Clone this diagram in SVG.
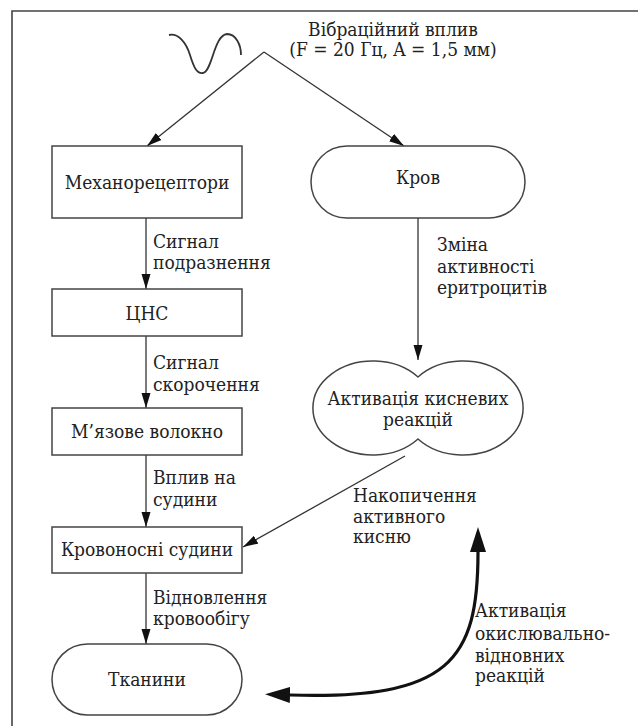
<svg xmlns="http://www.w3.org/2000/svg" width="638" height="726" viewBox="0 0 638 726">
<style>
text{font-family:"DejaVu Serif Condensed","DejaVu Serif","Liberation Serif",serif;font-stretch:condensed;font-size:19px;fill:#222}
.c{text-anchor:middle}
.box{fill:#fff;stroke:#444;stroke-width:1.5}
.ln{fill:none;stroke:#333;stroke-width:1.3}
.bold{fill:none;stroke:#111;stroke-width:3.2}
</style>
<defs>
<marker id="ah" markerUnits="userSpaceOnUse" markerWidth="16" markerHeight="10" refX="15" refY="5" orient="auto"><path d="M0,0.5 L15,5 L0,9.5 z" fill="#111"/></marker>
<marker id="bh" markerUnits="userSpaceOnUse" markerWidth="26" markerHeight="18" refX="0" refY="8" orient="auto-start-reverse"><path d="M0,0 L25,8 L0,16 z" fill="#111"/></marker>
</defs>
<rect width="638" height="726" fill="#fff"/>
<path d="M12,726 V11 H638" fill="none" stroke="#444" stroke-width="1.6"/>

<g id="vibration">
<path d="M169,35 C178,33 186,42 190,55 C194,68 197,74 203,73 C212,72 214,35 227,34 C236,34 241,45 241,55" fill="none" stroke="#333" stroke-width="1.8"/>
<text class="c" x="393" y="36">Вібраційний вплив</text>
<text class="c" x="393" y="56">(F = 20 Гц, A = 1,5 мм)</text>
</g>

<g id="connectors">
<path class="ln" d="M264,52 L147,146" marker-end="url(#ah)"/>
<path class="ln" d="M264,52 L404,146" marker-end="url(#ah)"/>
<path class="ln" d="M146,218 V289" marker-end="url(#ah)"/>
<path class="ln" d="M146,336 V408" marker-end="url(#ah)"/>
<path class="ln" d="M146,455 V527" marker-end="url(#ah)"/>
<path class="ln" d="M146,573 V644" marker-end="url(#ah)"/>
<path class="ln" d="M418,218 V360" marker-end="url(#ah)"/>
<path class="ln" d="M405,456 L243,547" marker-end="url(#ah)"/>
<path class="bold" d="M478,552 C478,660 450,700 290,695" marker-start="url(#bh)" marker-end="url(#bh)"/>
<text x="153" y="248">Сигнал</text>
<text x="153" y="269">подразнення</text>
<text x="153" y="369">Сигнал</text>
<text x="153" y="391">скорочення</text>
<text x="153" y="484">Вплив на</text>
<text x="153" y="506">судини</text>
<text x="153" y="604">Відновлення</text>
<text x="153" y="625">кровообігу</text>
<text x="437" y="251">Зміна</text>
<text x="437" y="273">активності</text>
<text x="437" y="294">еритроцитів</text>
<text x="353" y="502">Накопичення</text>
<text x="353" y="523">активного</text>
<text x="353" y="543">кисню</text>
<text x="475" y="617">Активація</text>
<text x="475" y="640">окислювально-</text>
<text x="475" y="662">відновних</text>
<text x="475" y="682">реакцій</text>
</g>

<g id="mechanoreceptors">
<rect class="box" x="52" y="146" width="190" height="72"/>
<text class="c" x="147" y="189">Механорецептори</text>
</g>
<g id="cns">
<rect class="box" x="52" y="289" width="190" height="47"/>
<text class="c" x="147" y="320">ЦНС</text>
</g>
<g id="muscle">
<rect class="box" x="52" y="408" width="190" height="47"/>
<text class="c" x="147" y="438">М’язове волокно</text>
</g>
<g id="vessels">
<rect class="box" x="52" y="527" width="190" height="46"/>
<text class="c" x="147" y="556">Кровоносні судини</text>
</g>
<g id="tissues">
<rect class="box" x="52" y="644" width="190" height="71" rx="35.5"/>
<text class="c" x="147" y="686">Тканини</text>
</g>
<g id="blood">
<rect class="box" x="311" y="146" width="214" height="72" rx="36"/>
<text class="c" x="418" y="184">Кров</text>
</g>
<g id="oxygen">
<path class="box" d="M418,377 A60,47 0 1 0 418,439 A60,47 0 1 0 418,377 Z"/>
<text class="c" x="418" y="405">Активація кисневих</text>
<text class="c" x="418" y="426">реакцій</text>
</g>
</svg>
